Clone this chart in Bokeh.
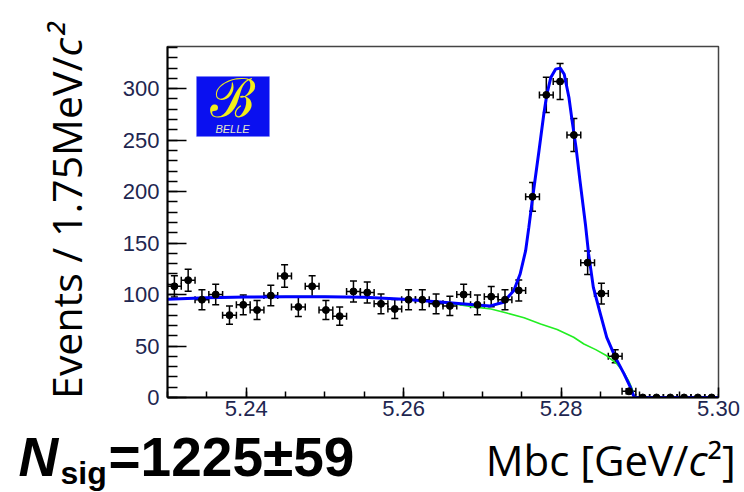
import numpy as np
from bokeh.plotting import figure
from bokeh.layouts import column, row
from bokeh.models import (Range1d, FixedTicker, PrintfTickFormatter, Whisker, TeeHead,
                          ColumnDataSource, Label, BoxAnnotation)
from bokeh.core.properties import value
from bokeh.embed import file_html
from bokeh.resources import INLINE

# ---------------- data ----------------
bin_lo = 5.23
bin_width = 0.00175  # GeV
counts = [108, 114, 95, 100, 80, 90, 85, 99, 118, 88,
          108, 85, 79, 103, 102, 91, 86, 95, 95, 91,
          89, 100, 90, 98, 95, 104, 195, 294, 307, 255,
          131, 101, 40, 6, 0, 0, 0, 0, 0, 0]

# total fit (blue)
fit_x = [5.2300, 5.2350, 5.2400, 5.2450, 5.2500, 5.2550, 5.2600, 5.2650, 5.2689,
         5.2710, 5.2727, 5.2740, 5.2748, 5.2755, 5.2759, 5.2764, 5.2772, 5.2778,
         5.2782, 5.2787, 5.2793, 5.2799, 5.2804, 5.2810, 5.2814, 5.2819, 5.2824,
         5.2831, 5.2835, 5.2841, 5.2850, 5.2858, 5.2869, 5.2880, 5.2888, 5.2893, 5.3000]
fit_y = [95.5, 96.8, 97.6, 98.0, 98.0, 97.4, 95.5, 92.5, 90.0,
         89.0, 92.5, 104.0, 120.0, 142.7, 165.0, 195.0, 240.0, 275.0,
         294.8, 311.0, 319.0, 320.0, 314.0, 291.5, 269.0, 243.0, 210.7,
         168.0, 139.5, 107.0, 81.0, 58.5, 39.0, 23.0, 10.0, 0.0, 0.0]

# background (green)
bkg_x = [5.2300, 5.2350, 5.2400, 5.2450, 5.2500, 5.2550, 5.2600, 5.2650, 5.2689,
         5.2711, 5.2731, 5.2753, 5.2774, 5.2795, 5.2816, 5.2829, 5.2844, 5.2858,
         5.2871, 5.2880, 5.2886, 5.2890, 5.2893, 5.3000]
bkg_y = [95.5, 96.8, 97.6, 98.0, 98.0, 97.4, 95.5, 92.5, 88.0,
         86.0, 82.0, 77.5, 71.5, 66.0, 58.5, 52.0, 46.5, 40.5,
         32.6, 24.0, 16.0, 9.0, 0.0, 0.0]

x_ticks = [5.24, 5.26, 5.28, 5.30]
y_ticks = [0, 50, 100, 150, 200, 250, 300]

y_title = "Events / 1.75MeV/"
x_title = "Mbc [GeV/"
unit_c = "c"
nsig_text = "=1225\u00b159"

# ---------------- derived ----------------
n = len(counts)
centers = [bin_lo + bin_width * (i + 0.5) for i in range(n)]
cnt = np.array(counts, dtype=float)
err = np.sqrt(cnt)
src = ColumnDataSource(dict(x=centers, y=counts,
                            xl=[c - bin_width / 2 for c in centers],
                            xh=[c + bin_width / 2 for c in centers]))
nz = [i for i in range(n) if counts[i] > 0]
src_nz = ColumnDataSource(dict(x=[centers[i] for i in nz],
                               lo=[cnt[i] - err[i] for i in nz],
                               hi=[cnt[i] + err[i] for i in nz]))

# ---------------- main plot ----------------
p = figure(width=634, height=422, output_backend="svg", toolbar_location=None,
           x_range=Range1d(5.23, 5.30), y_range=Range1d(0, 341),
           min_border_left=57, min_border_right=26, min_border_top=46,
           min_border_bottom=25)
p.background_fill_color = "white"
p.border_fill_color = "white"
p.grid.visible = False
p.outline_line_color = "#444444"
p.outline_line_width = 1.5

p.xaxis.ticker = FixedTicker(ticks=x_ticks,
                             minor_ticks=[5.23 + 0.005 * i for i in range(15)])
p.yaxis.ticker = FixedTicker(ticks=y_ticks, minor_ticks=list(range(0, 341, 10)))
p.xaxis.formatter = PrintfTickFormatter(format="%.2f")
p.yaxis.formatter = PrintfTickFormatter(format="%d")
for ax in (p.xaxis, p.yaxis):
    ax.axis_line_color = "black"
    ax.axis_line_width = 2
    ax.major_tick_line_color = "black"
    ax.minor_tick_line_color = "black"
    ax.major_tick_line_width = 1.5
    ax.minor_tick_line_width = 1.5
    ax.major_tick_out = 0
    ax.minor_tick_out = 0
    ax.major_label_text_font = "Liberation Sans"
    ax.major_label_text_font_size = "22px"
    ax.major_label_text_color = "#1e2650"
p.yaxis.major_tick_in = 19
p.yaxis.minor_tick_in = 10
p.yaxis.major_label_standoff = 8
p.xaxis.major_tick_in = 10
p.xaxis.minor_tick_in = 6
p.xaxis.major_label_standoff = 3

p.line(bkg_x, bkg_y, line_color="#22ee22", line_width=1.6)
p.line(fit_x, fit_y, line_color="#0000ff", line_width=3)

p.add_layout(Whisker(source=src, base="y", lower="xl", upper="xh", dimension="width",
                     line_color="black", line_width=1.5,
                     lower_head=TeeHead(size=7, line_color="black", line_width=1.5),
                     upper_head=TeeHead(size=7, line_color="black", line_width=1.5)))
p.add_layout(Whisker(source=src_nz, base="x", lower="lo", upper="hi", dimension="height",
                     line_color="black", line_width=1.5,
                     lower_head=TeeHead(size=7, line_color="black", line_width=1.5),
                     upper_head=TeeHead(size=7, line_color="black", line_width=1.5)))
p.scatter("x", "y", source=src, size=7, color="black")

# Belle logo (screen units relative to the plot frame)
p.add_layout(BoxAnnotation(left=29, right=102, top=321, bottom=261,
                           left_units="screen", right_units="screen",
                           top_units="screen", bottom_units="screen",
                           fill_color="#0a10f0", fill_alpha=1.0,
                           line_color="#6f78ff", line_width=1))
p.add_layout(Label(x=65, y=299, x_units="screen", y_units="screen", text="\u212c",
                   text_font="DejaVu Serif", text_font_size="54px",
                   text_color="#f2ee1a", text_align="center", text_baseline="middle"))
p.add_layout(Label(x=65, y=269, x_units="screen", y_units="screen", text="BELLE",
                   text_font="Liberation Sans", text_font_style="italic",
                   text_font_size="11px", text_color="#e6e6c8",
                   text_align="center", text_baseline="middle"))

# ---------------- y-axis title panel ----------------
ty = figure(width=110, height=422, output_backend="svg", toolbar_location=None,
            x_range=Range1d(0, 110), y_range=Range1d(0, 422),
            min_border=0, x_axis_type=None, y_axis_type=None)
ty.grid.visible = False
ty.outline_line_color = None
ty.text(x=[65], y=[366], text=[y_title], angle=np.pi / 2,
        text_font=value("Open Sans"), text_font_size="41px", text_color="black",
        text_align="right", text_baseline="alphabetic")
ty.text(x=[65], y=[366], text=[unit_c + "\u00b2"], angle=np.pi / 2,
        text_font=value("Open Sans"), text_font_style="italic",
        text_font_size="41px", text_color="black",
        text_align="left", text_baseline="alphabetic")

# ---------------- bottom text panel ----------------
tb = figure(width=744, height=70, output_backend="svg", toolbar_location=None,
            x_range=Range1d(0, 744), y_range=Range1d(0, 70),
            min_border=0, x_axis_type=None, y_axis_type=None)
tb.grid.visible = False
tb.outline_line_color = None
tb.text(x=[18], y=[36], text=["N"], text_font=value("Liberation Sans"),
        text_font_style="bold italic", text_font_size="55px", text_color="black",
        text_align="left", text_baseline="alphabetic")
tb.text(x=[60], y=[20], text=["sig"], text_font=value("Liberation Sans"),
        text_font_style="bold", text_font_size="32px", text_color="black",
        text_align="left", text_baseline="alphabetic")
tb.text(x=[108], y=[36], text=[nsig_text], text_font=value("Liberation Sans"),
        text_font_style="bold", text_font_size="55px", text_color="black",
        text_align="left", text_baseline="alphabetic")
tb.text(x=[688], y=[33], text=[x_title], text_font=value("Open Sans"),
        text_font_size="42px", text_color="black",
        text_align="right", text_baseline="alphabetic")
tb.text(x=[688], y=[33], text=[unit_c], text_font=value("Open Sans"),
        text_font_style="italic", text_font_size="42px", text_color="black",
        text_align="left", text_baseline="alphabetic")
tb.text(x=[707], y=[33], text=["\u00b2]"], text_font=value("Open Sans"),
        text_font_size="42px", text_color="black",
        text_align="left", text_baseline="alphabetic")

layout = column(row(ty, column(p, spacing=0), spacing=0), tb, spacing=0)
open("out.html", "w").write(file_html(layout, INLINE))
